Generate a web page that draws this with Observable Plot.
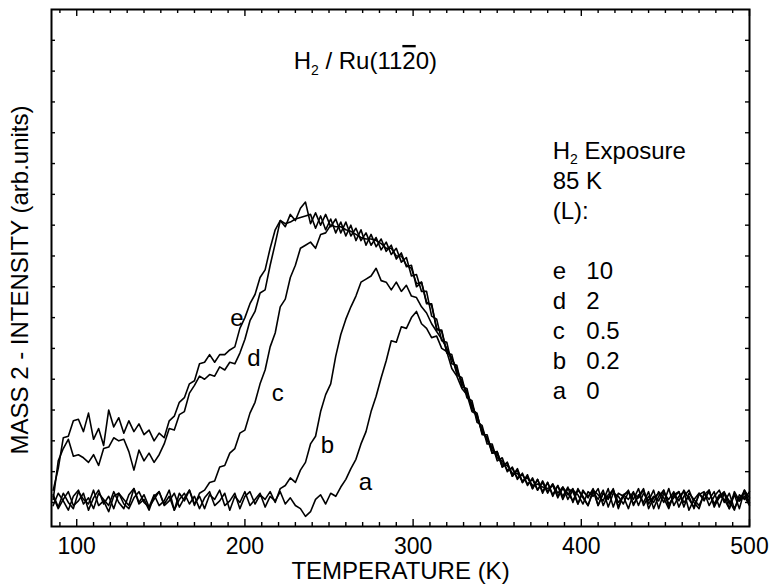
<!DOCTYPE html>
<html><head><meta charset="utf-8">
<script src="https://cdn.jsdelivr.net/npm/d3@7"></script>
<script src="https://cdn.jsdelivr.net/npm/@observablehq/plot@0.6"></script>
<style>
html,body{margin:0;padding:0;background:#fff}
#chart svg{display:block}
</style>
</head><body><div id="chart"></div>
<script>
// ---- data (temperature in K, intensity in arb. units) ----
const temperature = [
 86,89,92,95,98,101,104,107,110,113,
 116,119,122,125,128,131,134,137,140,143,
 146,149,152,155,158,161,164,167,170,173,
 176,179,182,185,188,191,194,197,200,203,
 206,209,212,215,218,221,224,227,230,233,
 236,239,242,245,248,251,254,257,260,263,
 266,269,272,275,278,281,284,287,290,293,
 296,299,302,305,308,311,314,317,320,323,
 326,329,332,335,338,341,344,347,350,353,
 356,359,362,365,368,371,374,377,380,383,
 386,389,392,395,398,401,404,407,410,413,
 416,419,422,425,428,431,434,437,440,443,
 446,449,452,455,458,461,464,467,470,473,
 476,479,482,485,488,491,494,497,500];

const curveA = [
 0.25,-0.15,0.3,0.0,-0.2,0.35,0.1,-0.05,0.4,-0.1,
 0.05,-0.3,0.2,0.3,-0.05,-0.2,0.15,0.35,0.0,-0.15,
 0.25,-0.1,0.05,0.4,-0.25,0.1,0.3,-0.05,0.2,-0.2,
 0.15,0.35,-0.1,0.05,0.3,-0.25,0.2,0.0,0.35,-0.1,
 0.1,0.3,-0.15,0.2,0.05,0.35,-0.05,0.15,-0.1,-0.2,
 -0.45,-0.3,0.1,0.25,-0.05,0.3,0.2,0.5,0.75,1.1,
 1.4,1.9,2.3,2.95,3.45,4.05,4.6,5.25,5.2,5.7,
 5.65,6.0,6.2,5.8,5.65,5.35,5.4,5.0,4.9,4.35,
 4.1,3.7,3.5,2.95,2.85,2.25,2.1,1.6,1.65,1.15,
 1.3,0.85,1.05,0.65,0.85,0.45,0.75,0.3,0.65,0.2,
 0.55,0.1,0.45,0.35,-0.05,0.4,0.15,0.45,-0.1,0.3,
 0.1,0.4,-0.15,0.25,0.35,-0.05,0.2,0.45,-0.2,0.15,
 0.3,0.0,0.45,-0.1,0.2,0.35,-0.25,0.1,0.3,0.05,
 0.4,-0.15,0.2,0.35,-0.05,0.25,-0.2,0.4,0.15];

const curveB = [
 -0.1,0.3,0.05,-0.25,0.2,0.4,-0.05,0.15,-0.2,0.3,
 0.1,-0.1,0.35,0.0,-0.2,0.25,0.45,-0.05,0.1,-0.25,
 0.2,0.35,-0.1,0.05,0.3,-0.15,0.15,0.4,-0.05,0.2,
 -0.2,0.25,0.1,0.4,-0.1,0.05,0.3,-0.2,0.2,0.35,
 -0.05,0.25,0.1,0.35,0.0,0.45,0.55,0.8,0.65,1.05,
 1.3,1.9,2.15,2.95,3.5,3.85,4.75,5.45,5.95,6.35,
 6.7,7.15,7.25,7.35,7.6,7.2,7.15,6.9,7.15,6.85,
 7.05,6.7,6.65,6.35,6.15,5.8,5.55,5.3,5.0,4.65,
 4.35,3.85,3.6,3.1,2.8,2.3,2.1,1.7,1.55,1.25,
 1.2,0.95,0.95,0.7,0.8,0.55,0.6,0.5,0.45,0.55,
 0.2,0.45,0.3,0.05,0.4,0.2,-0.1,0.35,0.1,0.4,
 -0.15,0.3,0.2,-0.05,0.35,0.1,0.45,-0.1,0.2,0.0,
 0.35,0.15,-0.2,0.3,0.05,0.4,0.1,-0.15,0.25,0.35,
 -0.1,0.2,0.4,0.0,0.3,-0.2,0.15,0.3,-0.05];

const curveC = [
 0.2,-0.2,0.1,0.35,-0.1,0.05,0.3,-0.25,0.15,0.4,
 -0.05,0.2,-0.2,0.3,0.1,-0.1,0.45,0.0,0.25,-0.15,
 0.1,0.35,-0.05,0.2,-0.25,0.3,0.05,0.4,-0.1,0.3,
 0.4,0.65,0.7,1.15,1.2,1.6,1.75,2.25,2.35,2.9,
 3.25,3.85,4.3,5.05,5.5,6.35,6.6,7.3,7.7,8.25,
 8.35,8.45,8.25,8.7,8.75,9.0,8.95,8.95,8.85,8.8,
 8.7,8.6,8.55,8.55,8.5,8.4,8.25,8.25,8.0,8.0,
 7.7,7.6,7.1,7.15,6.5,6.4,5.65,5.55,4.9,4.7,
 4.25,3.95,3.5,3.2,2.7,2.4,2.0,1.8,1.45,1.35,
 1.05,1.1,0.8,0.9,0.6,0.75,0.4,0.7,0.35,0.6,
 0.3,0.5,0.1,0.4,0.25,-0.05,0.35,0.2,0.45,-0.1,
 0.25,0.4,0.0,0.2,-0.2,0.3,0.15,0.4,-0.05,0.2,
 0.05,0.4,-0.15,0.25,0.35,0.0,0.2,-0.2,0.3,0.1,
 0.35,-0.05,0.25,0.1,-0.2,0.35,0.05,0.2,-0.1];

const curveD = [
 0.1,1.35,1.75,2.05,1.5,1.55,1.45,1.3,1.55,1.2,
 1.75,1.8,2.1,2.0,2.05,1.65,1.05,1.7,1.35,1.6,
 1.3,1.55,1.9,2.4,2.35,2.85,2.95,3.55,3.8,4.1,
 4.0,4.15,4.1,4.4,4.3,4.55,4.5,4.85,5.3,5.9,
 6.2,6.8,6.9,7.7,8.4,9.15,9.05,9.1,9.2,9.25,
 9.3,9.35,8.9,9.3,8.85,9.2,8.75,9.1,8.65,9.0,
 8.5,8.85,8.35,8.7,8.3,8.55,8.15,8.35,7.9,8.1,
 7.65,7.7,7.0,7.15,6.45,6.45,5.6,5.6,4.85,4.8,
 4.15,4.05,3.4,3.3,2.6,2.5,1.9,1.9,1.35,1.45,
 1.0,1.15,0.75,0.95,0.55,0.8,0.4,0.65,0.3,0.6,
 0.15,0.5,0.25,0.45,-0.05,0.35,0.2,0.4,-0.1,0.3,
 0.15,0.45,-0.2,0.25,0.1,0.35,-0.1,0.3,0.05,0.4,
 -0.2,0.3,0.1,0.35,-0.15,0.2,0.4,0.0,-0.2,0.3,
 0.1,0.35,-0.15,0.3,0.05,-0.25,0.25,0.1,0.35];

const curveE = [
 0.4,1.1,2.1,2.15,2.65,2.7,2.3,2.9,2.05,2.4,
 1.85,3.0,2.45,2.75,2.25,2.65,2.3,2.55,2.2,2.35,
 2.0,2.25,2.1,2.65,2.8,3.25,3.4,3.85,3.95,4.5,
 4.55,4.8,4.55,4.8,4.8,4.95,5.05,5.65,6.0,6.45,
 6.75,7.3,7.55,8.25,8.85,9.15,8.95,9.35,9.15,9.55,
 9.75,9.05,9.4,9.0,9.35,8.95,9.2,8.75,9.1,8.65,
 8.9,8.5,8.75,8.35,8.6,8.2,8.45,8.05,8.25,7.8,
 7.95,7.35,7.4,6.85,6.85,6.05,5.95,5.25,5.2,4.5,
 4.45,3.75,3.7,3.0,2.9,2.2,2.2,1.6,1.65,1.15,
 1.3,0.85,1.1,0.65,0.9,0.45,0.75,0.35,0.65,0.25,
 0.55,0.2,0.5,0.0,0.45,0.15,-0.1,0.4,0.25,0.05,
 0.45,-0.15,0.3,0.2,0.4,-0.1,0.25,0.0,0.35,-0.2,
 0.2,0.4,-0.05,0.15,0.35,-0.15,0.3,0.1,-0.1,0.25,
 0.4,-0.1,0.15,0.3,-0.2,0.25,0.05,0.4,0.0];

const seriesNames = ["a","b","c","d","e"];
const seriesValues = [curveA, curveB, curveC, curveD, curveE];

// tick values
const xMajorTicks = [100,200,300,400,500];
const xMinorTicks = [90,110,120,130,140,150,160,170,180,190,210,220,230,240,250,260,270,280,290,
                     310,320,330,340,350,360,370,380,390,410,420,430,440,450,460,470,480,490];
const yTicks = [0,1,2,3,4,5,6,7,8,9,10,11,12,13,14,15];

// texts
const titleText = ["H2 / Ru(1120)"];
const xLabel = ["TEMPERATURE (K)"];
const yLabel = ["MASS 2 - INTENSITY (arb.units)"];
const curveLabelText = ["a","b","c","d","e"];
const curveLabelT = [271.6, 249.1, 219.5, 205.3, 195.3];
const curveLabelV = [0.65, 1.85, 3.54, 4.68, 5.97];
const legendHeader = ["H2 Exposure","85 K","(L):"];
const legendLetters = ["e","d","c","b","a"];
const legendExposures = ["10","2","0.5","0.2","0"];

// ---- build table ----
const rows = [];
seriesNames.forEach((name, k) => {
  temperature.forEach((t, i) => rows.push({T: t, v: seriesValues[k][i], s: name}));
});

// ---- layout ----
const W = 771, H = 586, mL = 51, mR = 22, mT = 9, mB = 60;
const fw = W - mL - mR, fh = H - mT - mB;
const FONT = '"Liberation Sans", Arial, Helvetica, sans-serif';
const FS = 24, TICKFS = 23;
const legendT = 383, legendT2 = 403, legendTopV = 11.41, rowV = 0.974;
const titleT = 271.6, titleV = 14.32;
const tickStyle = {stroke: "#000", strokeWidth: 1.4};

const chart = Plot.plot({
  width: W, height: H,
  marginLeft: mL, marginRight: mR, marginTop: mT, marginBottom: mB,
  style: {fontFamily: FONT, fontSize: FS + "px", color: "#000", background: "#fff", overflow: "visible"},
  x: {domain: [85, 500], label: null},
  y: {domain: [-0.78, 16], label: null, axis: null},
  marks: [
    Plot.line(rows, {x: "T", y: "v", z: "s", stroke: "#000", strokeWidth: 1.6}),
    Plot.tickX(xMajorTicks, {x: d => d, insetTop: fh - 7, ...tickStyle}),
    Plot.tickX(xMajorTicks, {x: d => d, insetBottom: fh - 7, ...tickStyle}),
    Plot.tickX(xMinorTicks, {x: d => d, insetTop: fh - 4, ...tickStyle}),
    Plot.tickX(xMinorTicks, {x: d => d, insetBottom: fh - 4, ...tickStyle}),
    Plot.tickY(yTicks, {y: d => d, insetRight: fw - 4, ...tickStyle}),
    Plot.tickY(yTicks, {y: d => d, insetLeft: fw - 4, ...tickStyle}),
    Plot.frame({stroke: "#000", strokeWidth: 2}),
    Plot.axisX(xMajorTicks, {anchor: "bottom", tickSize: 0, tickPadding: 11, label: null, fontSize: TICKFS}),
    Plot.text(xLabel, {frameAnchor: "bottom", lineAnchor: "middle", dy: 45, text: d => d, fontSize: FS}),
    Plot.text(yLabel, {frameAnchor: "left", textAnchor: "middle", lineAnchor: "middle", rotate: -90, dx: -31, dy: 12, text: d => d, fontSize: FS}),
    Plot.text(titleText, {x: () => titleT, y: () => titleV, text: d => d, fontSize: FS}),
    Plot.text(curveLabelText, {x: (d, i) => curveLabelT[i], y: (d, i) => curveLabelV[i], text: d => d, fontSize: FS}),
    Plot.text(legendHeader, {x: () => legendT, y: (d, i) => legendTopV - i * rowV, text: d => d, textAnchor: "start", fontSize: FS}),
    Plot.text(legendLetters, {x: () => legendT, y: (d, i) => legendTopV - (4 + i) * rowV, text: d => d, textAnchor: "start", fontSize: FS}),
    Plot.text(legendExposures, {x: () => legendT2, y: (d, i) => legendTopV - (4 + i) * rowV, text: d => d, textAnchor: "start", fontSize: FS})
  ]
});

// subscripts and overbar as real text
d3.select(chart).selectAll("text").each(function() {
  const t = this.textContent;
  const el = d3.select(this);
  if (t === "H2 / Ru(1120)") {
    el.text(null);
    el.append("tspan").text("H");
    el.append("tspan").attr("font-size", 14).attr("dy", 6).text("2");
    el.append("tspan").attr("dy", -6).text(" / Ru(11");
    el.append("tspan").style("text-decoration", "overline").text("2");
    el.append("tspan").text("0)");
  } else if (t === "H2 Exposure") {
    el.text(null);
    el.append("tspan").text("H");
    el.append("tspan").attr("font-size", 14).attr("dy", 5).text("2");
    el.append("tspan").attr("dy", -5).text(" Exposure");
  }
});

document.getElementById("chart").appendChild(chart);
</script>
</body></html>
